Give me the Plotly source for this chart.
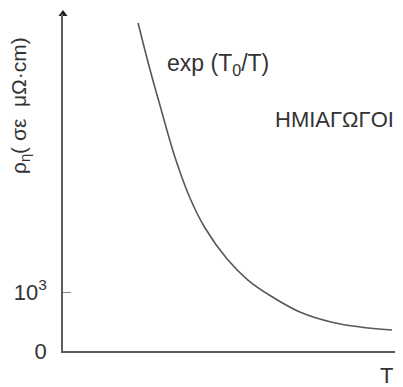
import plotly.graph_objects as go

# Data (T in arbitrary units 0-100, rho in µΩ·cm)
T_vals = [22.4, 26.0, 29.0, 33.4, 37.9, 42.4, 49.0, 55.2, 61.8, 70.7, 80.6, 88.7, 98.2]
rho_vals = [5559, 4763, 4153, 3288, 2593, 2085, 1559, 1203, 941, 661, 483, 407, 356]
y_tick_vals = [0, 1000]
y_tick_text = ["0", "10<sup>3</sup>"]

X_MAX = 100
Y_MAX = 5712
AX_COL = "#5e5e5e"
TXT_COL = "#333333"
FONT = "Liberation Sans, Arial, sans-serif"

fig = go.Figure()
fig.add_trace(go.Scatter(
    x=T_vals, y=rho_vals, mode="lines",
    line=dict(color="#585858", width=1.6, shape="spline", smoothing=1.0),
    hoverinfo="skip", showlegend=False,
))
# axis arrow heads
fig.add_trace(go.Scatter(
    x=[0], y=[Y_MAX], mode="markers", cliponaxis=False,
    marker=dict(symbol="triangle-up", size=8, color="#222222"),
    hoverinfo="skip", showlegend=False,
))
fig.add_trace(go.Scatter(
    x=[X_MAX], y=[0], mode="markers", cliponaxis=False,
    marker=dict(symbol="triangle-right", size=8, color="#222222"),
    hoverinfo="skip", showlegend=False,
))

# page body has an 8px margin, so the figure is laid out 8px smaller
fig.update_layout(
    width=395, height=379,
    margin=dict(l=55, r=5, t=6, b=36),
    paper_bgcolor="white", plot_bgcolor="white",
    font=dict(family=FONT, color=TXT_COL, size=22),
    xaxis=dict(range=[0, X_MAX], showline=True, linecolor=AX_COL, linewidth=1.8,
               showgrid=False, zeroline=False, showticklabels=False, ticks=""),
    yaxis=dict(range=[0, Y_MAX], showline=True, linecolor=AX_COL, linewidth=1.8,
               showgrid=False, zeroline=False, tickmode="array",
               tickvals=y_tick_vals, ticktext=y_tick_text, ticks="inside",
               ticklen=8, tickcolor="#888888", tickwidth=1,
               tickfont=dict(size=22, color=TXT_COL), ticklabelstandoff=10),
    annotations=[
        dict(text="exp (T<sub>0</sub>/T)", xref="paper", yref="paper",
             x=(218 - 63) / 335, y=(351 - 64) / 337, showarrow=False,
             font=dict(size=23, color=TXT_COL), xanchor="center", yanchor="middle"),
        dict(text="ΗΜΙΑΓΩΓΟΙ", xref="paper", yref="paper",
             x=(334 - 63) / 335, y=(351 - 119) / 337, showarrow=False,
             font=dict(size=22, color=TXT_COL), xanchor="center", yanchor="middle"),
        dict(text="ρ<sub>η</sub>(\u00a0σε\u00a0\u00a0μΩ·cm)", xref="paper", yref="paper",
             x=(20 - 63) / 335, y=(351 - 106) / 337, showarrow=False, textangle=-90,
             font=dict(size=21, color=TXT_COL), xanchor="center", yanchor="middle"),
        dict(text="T", xref="paper", yref="paper",
             x=(386 - 63) / 335, y=(351 - 375) / 337, showarrow=False,
             font=dict(size=22, color=TXT_COL), xanchor="center", yanchor="middle"),
    ],
)

fig.write_html("out.html")
